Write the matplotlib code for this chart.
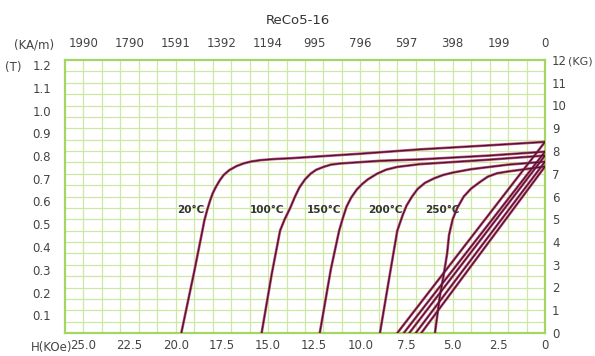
import matplotlib
matplotlib.use("Agg")
import matplotlib.pyplot as plt
import matplotlib.transforms as mtransforms

# ---- data (H in kOe, B/J in kG) ----
temps = ["20°C", "100°C", "150°C", "200°C", "250°C"]

j20_h = [0, 3.0, 6.8, 10.0, 13.8, 14.6, 15.4, 15.9, 16.3, 16.7, 17.1, 17.4, 17.6, 17.8,
         18.0, 18.15, 18.3, 18.45, 18.55, 19.0, 19.7]
j20_b = [8.4, 8.25, 8.07, 7.88, 7.68, 7.65, 7.6, 7.54, 7.46, 7.34, 7.16, 6.95, 6.73, 6.46,
         6.14, 5.8, 5.4, 4.95, 4.53, 2.7, 0]

j100_h = [0, 3.0, 6.8, 8.9, 10.2, 11.1, 11.6, 12.0, 12.4, 12.7, 13.0, 13.3, 13.55, 13.8,
          14.1, 14.35, 14.8, 15.35]
j100_b = [7.97, 7.8, 7.63, 7.57, 7.5, 7.45, 7.4, 7.3, 7.17, 7.0, 6.75, 6.4, 5.98, 5.5,
          5.0, 4.5, 2.6, 0]

j150_h = [0, 3.0, 6.8, 8.0, 8.6, 9.1, 9.6, 9.9, 10.2, 10.5, 10.75, 10.95, 11.15, 11.6, 12.2]
j150_b = [7.8, 7.62, 7.42, 7.3, 7.18, 7.0, 6.75, 6.55, 6.3, 5.95, 5.55, 5.05, 4.5, 2.8, 0]

j200_h = [0, 2.0, 4.0, 5.0, 5.5, 6.0, 6.5, 6.9, 7.2, 7.5, 7.7, 7.85, 8.0, 8.4, 8.94]
j200_b = [7.53, 7.4, 7.2, 7.05, 6.95, 6.8, 6.6, 6.33, 6.0, 5.6, 5.2, 4.85, 4.5, 2.6, 0]

j250_h = [0, 1.35, 2.0, 2.6, 3.1, 3.5, 4.0, 4.4, 4.75, 5.0, 5.2, 5.3, 5.5, 5.7, 5.96]
j250_b = [7.32, 7.17, 7.1, 7.02, 6.87, 6.65, 6.35, 6.0, 5.5, 5.0, 4.3, 3.5, 2.5, 1.6, 0]

br = [8.4, 7.97, 7.8, 7.53, 7.32]      # remanence at H=0 (kG)
hcb = [8.0, 7.65, 7.35, 7.0, 6.7]      # coercivity of normal curves (kOe)

label_h = [19.2, 15.06, 11.97, 8.67, 5.58]
label_b = 5.4

x_ticks = [25.0, 22.5, 20.0, 17.5, 15.0, 12.5, 10.0, 7.5, 5.0, 2.5, 0.0]
x_bottom_labels = ["25.0", "22.5", "20.0", "17.5", "15.0", "12.5", "10.0", "7.5", "5.0", "2.5", "0"]
x_top_labels = ["1990", "1790", "1591", "1392", "1194", "995", "796", "597", "398", "199", "0"]
y_kg = list(range(0, 13))
y_t_labels = ["", "0.1", "0.2", "0.3", "0.4", "0.5", "0.6", "0.7", "0.8", "0.9", "1.0", "1.1", "1.2"]
title = "ReCo5-16"

# ---- figure ----
W, H = 595, 356
fig = plt.figure(figsize=(W / 100, H / 100), dpi=100)
ax = fig.add_axes([65 / W, 1 - 333 / H, 480 / W, 273 / H])
ax.set_xlim(26, 0)
ax.set_ylim(0, 12)

grid_c = "#cde8a2"
for v in range(1, 26):
    ax.axvline(v, color=grid_c, lw=0.9, zorder=0)
for k in range(1, 24):
    ax.axhline(k * 0.5, color=grid_c, lw=0.9, zorder=0)
for s in ax.spines.values():
    s.set_color("#a3d762")
    s.set_linewidth(1.6)

line_under = "#c0507a"
line_core = "#4d1232"

curves = [(j20_h, j20_b), (j100_h, j100_b), (j150_h, j150_b), (j200_h, j200_b), (j250_h, j250_b)]
for hh, bb in curves:
    ax.plot(hh, bb, color=line_under, lw=1.9, solid_capstyle="butt", solid_joinstyle="round", zorder=3)
    ax.plot(hh, bb, color=line_core, lw=0.9, solid_capstyle="butt", solid_joinstyle="round", zorder=4)
for b0, hc in zip(br, hcb):
    ax.plot([0, hc], [b0, 0], color=line_under, lw=1.9, zorder=3)
    ax.plot([0, hc], [b0, 0], color=line_core, lw=0.9, zorder=4)

for t, lh in zip(temps, label_h):
    ax.text(lh, label_b, t, ha="center", va="center", fontsize=7.5,
            fontweight="bold", color="#333333", zorder=5)

txt_c = "#444444"
fs = 8.5
ax.set_xticks(x_ticks)
ax.set_xticklabels(x_bottom_labels)
ax.tick_params(axis="x", length=0, pad=4, labelsize=fs, labelcolor=txt_c)
# top axis
axt = ax.secondary_xaxis("top")
axt.set_xticks(x_ticks)
axt.set_xticklabels(x_top_labels)
axt.tick_params(length=0, pad=7, labelsize=fs, labelcolor=txt_c)
axt.spines["top"].set_visible(False)

# left (Tesla) labels
ax.set_yticks(y_kg)
ax.set_yticklabels(y_t_labels)
ax.tick_params(axis="y", length=0, pad=10, labelsize=fs, labelcolor=txt_c)
off = mtransforms.ScaledTranslation(0, -5 / 100, fig.dpi_scale_trans)
for lab in ax.get_yticklabels():
    lab.set_transform(lab.get_transform() + off)

# right (kG) labels
axr = ax.secondary_yaxis("right")
axr.set_yticks(y_kg)
axr.set_yticklabels([str(v) for v in y_kg])
axr.tick_params(length=0, pad=5, labelsize=fs, labelcolor=txt_c)
axr.spines["right"].set_visible(False)

fig.text(593 / W, 1 - 62 / H, "(KG)", ha="right", va="center", fontsize=8, color=txt_c)
fig.text(34 / W, 1 - 45 / H, "(KA/m)", ha="center", va="center", fontsize=fs, color=txt_c)
fig.text(13 / W, 1 - 67 / H, "(T)", ha="center", va="center", fontsize=fs, color=txt_c)
fig.text(72 / W, 1 - 347 / H, "H(KOe)", ha="right", va="center", fontsize=fs, color=txt_c)
fig.text(298 / W, 1 - 20 / H, title, ha="center", va="center", fontsize=9.5, color="#333333")

fig.savefig("out.png", dpi=100, facecolor="white")
